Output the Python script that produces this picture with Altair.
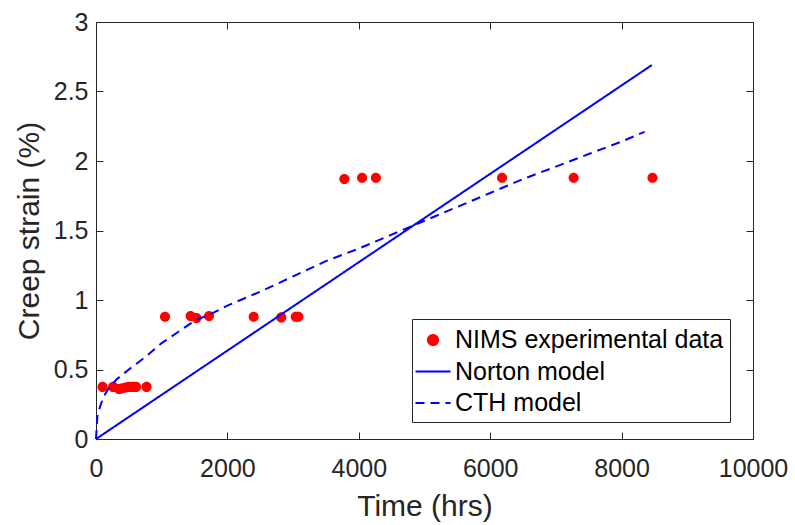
import altair as alt
import pandas as pd

# ---- data ----
series_names = ["NIMS experimental data", "Norton model", "CTH model"]

nims_time = [100, 260, 350, 400, 450, 500, 560, 610, 770,
             1050, 1440, 1530, 1720, 2400, 2820, 3040, 3080,
             3780, 4050, 4260, 6180, 7270, 8470]
nims_strain = [0.375, 0.375, 0.36, 0.365, 0.37, 0.375, 0.375, 0.375, 0.375,
               0.88, 0.885, 0.87, 0.885, 0.88, 0.875, 0.88, 0.88,
               1.87, 1.88, 1.88, 1.88, 1.88, 1.88]

norton_time = [0, 8460]
norton_strain = [0, 2.69]

cth_time = [0, 20, 60, 111, 200, 315, 500, 750, 1000, 1250, 1500, 1750, 2000,
            2500, 3000, 3500, 4000, 4500, 5000, 5500, 6000, 6500, 7000, 7500,
            8000, 8350]
cth_strain = [0, 0.16, 0.23, 0.30, 0.37, 0.43, 0.50, 0.59, 0.69, 0.77, 0.85,
              0.90, 0.96, 1.06, 1.17, 1.28, 1.37, 1.47, 1.57, 1.67, 1.77,
              1.87, 1.96, 2.05, 2.14, 2.21]

x_ticks = [0, 2000, 4000, 6000, 8000, 10000]
y_ticks = [0, 0.5, 1, 1.5, 2, 2.5, 3]

pts = pd.DataFrame({"t": nims_time, "e": nims_strain, "s": series_names[0]})
lines = pd.concat([
    pd.DataFrame({"t": norton_time, "e": norton_strain, "s": series_names[1]}),
    pd.DataFrame({"t": cth_time, "e": cth_strain, "s": series_names[2]}),
], ignore_index=True)

FONT = "Liberation Sans"
AX = "#262626"
RED = "#ff0000"
BLUE = "#0000ff"

circle_path = "M0.36,0A0.36,0.36,0,1,1,-0.36,0A0.36,0.36,0,1,1,0.36,0Z"
line_path = "M-1.25,0H1.25"

xscale = alt.Scale(domain=[0, 10000], nice=False, zero=False)
yscale = alt.Scale(domain=[0, 3], nice=False, zero=False)

xaxis = alt.Axis(
    title="Time (hrs)", values=x_ticks, format="d", offset=-7, tickSize=7,
    domain=False, grid=False, labelPadding=17, labelFontSize=25,
    labelFont=FONT, labelColor=AX, tickColor=AX, tickWidth=1,
    labelFlush=False, labelOverlap=False, labelBaseline="top",
    titleFont=FONT, titleFontSize=30, titleFontWeight="normal",
    titleColor=AX, titleX=328.5, titleY=83, titleBaseline="alphabetic",
    titleAlign="center",
)
yaxis = alt.Axis(
    title="Creep strain (%)", values=y_ticks, format="~g", offset=-7,
    tickSize=7, domain=False, grid=False, labelPadding=8, labelFontSize=25,
    labelFont=FONT, labelColor=AX, tickColor=AX, tickWidth=1,
    labelFlush=False, labelOverlap=False, labelBaseline="middle",
    titleFont=FONT, titleFontSize=30, titleFontWeight="normal",
    titleColor=AX, titleX=-65, titleY=208.5, titleAngle=270,
    titleBaseline="alphabetic", titleAlign="center",
)

leg = alt.Legend(title=None, orient="none", legendX=316, legendY=297)

col_scale = alt.Scale(domain=series_names, range=[RED, BLUE, BLUE])
shape_scale = alt.Scale(domain=series_names,
                        range=[circle_path, line_path, line_path])
dash_scale = alt.Scale(domain=series_names, range=[[1, 0], [1, 0], [9, 6]])

points = alt.Chart(pts).mark_point(filled=True, opacity=1, size=784).encode(
    x=alt.X("t:Q", scale=xscale, axis=xaxis),
    y=alt.Y("e:Q", scale=yscale, axis=yaxis),
    fill=alt.Fill("s:N", scale=col_scale, legend=leg),
    shape=alt.Shape("s:N", scale=shape_scale, legend=leg),
)

model_lines = alt.Chart(lines).mark_line(strokeWidth=2, opacity=1).encode(
    x=alt.X("t:Q", scale=xscale, axis=xaxis),
    y=alt.Y("e:Q", scale=yscale, axis=yaxis),
    stroke=alt.Stroke("s:N", scale=col_scale, legend=leg),
    strokeDash=alt.StrokeDash("s:N", scale=dash_scale, legend=leg),
    detail="s:N",
)

main = alt.layer(points, model_lines)

# top / right inward ticks (box style)
frame = alt.Chart(pts).mark_point(opacity=0).encode(
    x=alt.X("t:Q", scale=xscale, axis=alt.Axis(
        orient="top", values=x_ticks, labels=False, title=None, offset=-7,
        tickSize=7, domain=False, grid=False, tickColor=AX)),
    y=alt.Y("e:Q", scale=yscale, axis=alt.Axis(
        orient="right", values=y_ticks, labels=False, title=None, offset=-7,
        tickSize=7, domain=False, grid=False, tickColor=AX)),
)

chart = alt.layer(main, frame).resolve_scale(
    x="independent", y="independent"
).properties(
    width=657, height=417,
    padding={"left": 96, "top": 22, "right": 42, "bottom": 86},
    autosize=alt.AutoSizeParams(type="none"),
    background="white",
).configure_view(
    stroke=AX, strokeWidth=1
).configure_legend(
    strokeColor=AX, fillColor="white", padding=6, labelFontSize=25,
    labelFont=FONT, labelColor="#000000", labelOffset=7, rowPadding=3.5,
    symbolSize=784, symbolStrokeWidth=2, labelLimit=400, symbolOpacity=1,
    cornerRadius=0,
)

chart.save("out.html", embed_options={"renderer": "svg", "actions": False})
